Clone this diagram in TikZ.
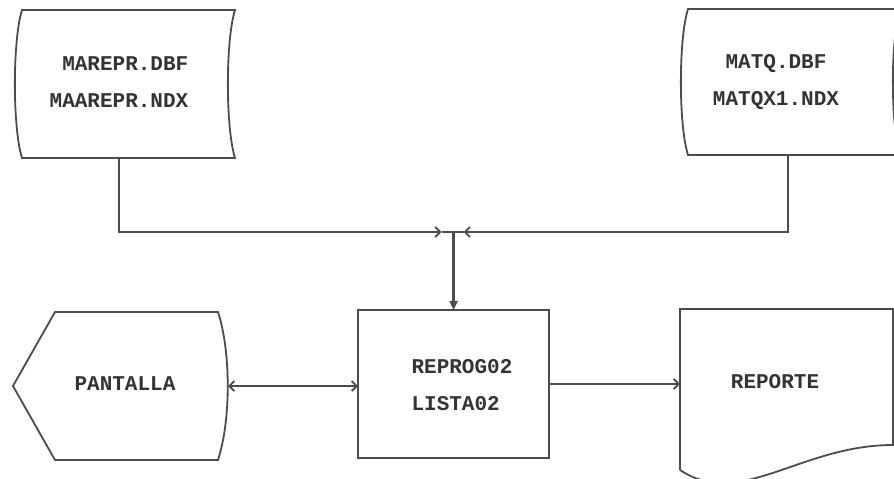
\documentclass[tikz,border=0pt]{standalone}
\usepackage{fontspec}
\setmonofont{Liberation Mono}
\usetikzlibrary{arrows.meta}

\begin{document}
\begin{tikzpicture}[
    x=1pt, y=-1pt,                % one unit = one pixel, y grows downwards
    line/.style={draw=black!70, line width=1.8pt}, % outline of every shape
    hidden/.style={inner sep=0pt, outer sep=0pt},  % invisible frame of a shape
    txt/.style={text=black!80, font=\ttfamily\bfseries\fontsize{21}{37}\selectfont},
    feed/.style={line, -{Straight Barb[length=5pt,width=10pt]}},
    both/.style={line, {Straight Barb[length=5pt,width=10pt]}-{Straight Barb[length=5pt,width=10pt]}},
    down/.style={line, line width=2.6pt, -{Triangle[length=9pt,width=8pt]}}
  ]
  \useasboundingbox (0,0) rectangle (894,479);
  \clip (0,0) rectangle (894,479);

  % frames of the shapes
  \node[hidden, minimum width=213, minimum height=148] (marepr) at (128.5,84) {};
  \node[hidden, minimum width=212, minimum height=146] (matq)   at (794,82) {};
  \node[hidden, minimum width=205, minimum height=148] (pant)   at (115.5,386) {};
  \node[hidden, minimum width=191, minimum height=148] (prog)   at (453.5,384) {};
  \node[hidden, minimum width=213, minimum height=161] (rep)    at (786.5,389.5) {};

  % stored data
  \draw[line] (marepr.north west) .. controls +(-9.5,30) and +(-9.5,-30) .. (marepr.south west)
    -- (marepr.south east) .. controls +(-9.5,-30) and +(-9.5,30) .. (marepr.north east) -- cycle;
  \draw[line] (matq.north west) .. controls +(-9.5,30) and +(-9.5,-30) .. (matq.south west)
    -- (matq.south east) .. controls +(-9.5,-30) and +(-9.5,30) .. (matq.north east) -- cycle;

  % display
  \draw[line] (pant.west) -- ([xshift=42pt]pant.north west) -- (pant.north east)
    .. controls +(13,40) and +(13,-40) .. (pant.south east)
    -- ([xshift=42pt]pant.south west) -- cycle;

  % process
  \draw[line] (prog.north west) rectangle (prog.south east);

  % document
  \draw[line] (rep.south west) -- (rep.north west) -- (rep.north east) -- ([yshift=25pt]rep.south east)
    .. controls +(-93,0) and +(60,40) .. (rep.south west);

  % texts
  \node[txt, align=right]  (mareprtxt) at (119,82)  {MAREPR.DBF\\MAAREPR.NDX};
  \node[txt, align=center] (matqtxt)   at (776,82)  {MATQ.DBF\\MATQX1.NDX};
  \node[txt]               (panttxt)   at (125,384) {PANTALLA};
  \node[txt, align=left]   (progtxt)   at (462,385) {REPROG02\\LISTA02};
  \node[txt]               (reptxt)    at (775,382) {REPORTE};

  % connectors
  \coordinate (junc) at (prog.north |- 0,232);
  \draw[feed] ([xshift=-9.5pt]marepr.south) |- ([xshift=-12pt]junc);
  \draw[feed] ([xshift=-6pt]matq.south) |- ([xshift=10pt]junc);
  \draw[line] ([xshift=-12pt]junc) -- ([xshift=10pt]junc);
  \draw[down] (junc) -- (prog.north);
  \draw[both] ([xshift=10pt]pant.east) -- (prog.west |- pant.east);
  \draw[feed] (prog.east) -- (rep.west |- prog.east);
\end{tikzpicture}
\end{document}
